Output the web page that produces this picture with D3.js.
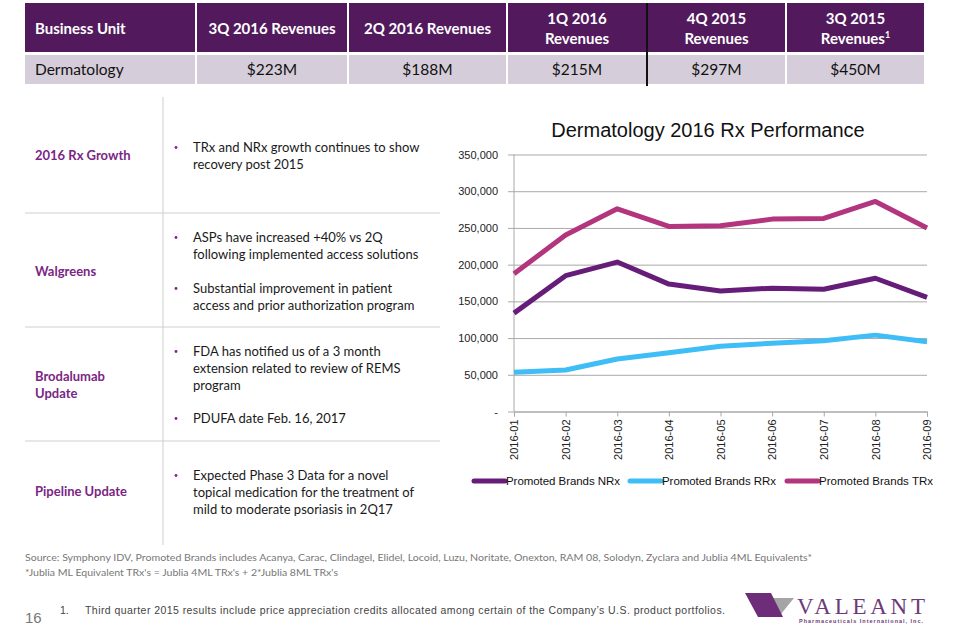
<!DOCTYPE html>
<html><head><meta charset="utf-8">
<script src="https://cdn.jsdelivr.net/npm/d3@7"></script>
<style>
html,body{margin:0;padding:0;background:#fff;}
svg{display:block;}
</style></head>
<body>
<svg id="c" width="960" height="629"></svg>
<script>
// ---- data ----
const tableHeaders = ["Business Unit", "3Q 2016 Revenues", "2Q 2016  Revenues", "1Q 2016\nRevenues", "4Q 2015\nRevenues", "3Q 2015\nRevenues"];
const tableRow = ["Dermatology", "$223M", "$188M", "$215M", "$297M", "$450M"];
const months = ["2016-01","2016-02","2016-03","2016-04","2016-05","2016-06","2016-07","2016-08","2016-09"];
const nrx = [134000, 185000, 203500, 173500, 164000, 168000, 166500, 181500, 155500];
const rrx = [53500, 56500, 71500, 80000, 89000, 93000, 96500, 104000, 95000];
const trx = [187500, 240500, 276000, 252000, 253000, 262000, 263000, 286000, 250000];
const seriesNames = ["Promoted Brands NRx", "Promoted Brands RRx", "Promoted Brands TRx"];
const yTicks = [0, 50000, 100000, 150000, 200000, 250000, 300000, 350000];
const sections = [
  {label:["2016 Rx Growth"], bullets:[["TRx and NRx growth continues to show","recovery post 2015"]]},
  {label:["Walgreens"], bullets:[["ASPs have increased +40% vs 2Q","following implemented access solutions"],["Substantial improvement in patient","access and prior authorization program"]]},
  {label:["Brodalumab","Update"], bullets:[["FDA has notified us of a 3 month","extension related to review of REMS","program"],["PDUFA date Feb. 16, 2017"]]},
  {label:["Pipeline Update"], bullets:[["Expected Phase 3 Data for a novel","topical medication for the treatment of","mild to moderate psoriasis in 2Q17"]]}
];

const svg = d3.select("#c");
const body = "Lato, 'Open Sans', sans-serif";
const arial = "'Liberation Sans', Arial, sans-serif";

// ---- table ----
const colEdges = [25, 196, 348, 507, 647, 786, 925];
const hdrY0 = 3, hdrY1 = 52, rowY0 = 55, rowY1 = 84;
for (let i = 0; i < 6; i++) {
  const x0 = colEdges[i] + (i ? 1 : 0), x1 = colEdges[i+1] - 1;
  svg.append("rect").attr("x", x0).attr("y", hdrY0).attr("width", x1 - x0).attr("height", hdrY1 - hdrY0).attr("fill", "#521a5d");
  svg.append("rect").attr("x", x0).attr("y", rowY0).attr("width", x1 - x0).attr("height", rowY1 - rowY0).attr("fill", "#d6cdda");
  const lines = tableHeaders[i].split("\n");
  const cx = i === 0 ? x0 + 10 : (x0 + x1) / 2;
  const t = svg.append("text").attr("x", cx).attr("text-anchor", i === 0 ? "start" : "middle")
    .attr("font-family", body).attr("font-weight", 700).attr("font-size", 15).attr("fill", "#fff");
  const startY = lines.length === 1 ? 34 : 24;
  lines.forEach((l, k) => {
    t.append("tspan").attr("x", cx).attr("y", startY + k * 20).text(l);
    if (i === 5 && k === 1) t.append("tspan").attr("font-size", 9).attr("dy", -6).text("1");
  });
  svg.append("text").attr("x", cx).attr("y", 75).attr("text-anchor", i === 0 ? "start" : "middle")
    .attr("font-family", body).attr("font-size", 15.5).attr("fill", "#111").text(tableRow[i]);
}
svg.append("line").attr("x1", 647).attr("x2", 647).attr("y1", 3).attr("y2", 86).attr("stroke", "#111").attr("stroke-width", 2);

// ---- left text panel ----
svg.append("line").attr("x1", 163).attr("x2", 163).attr("y1", 97).attr("y2", 545).attr("stroke", "#cfcfcf");
[213, 327, 441].forEach(y => svg.append("line").attr("x1", 25).attr("x2", 440).attr("y1", y).attr("y2", y).attr("stroke", "#cfcfcf"));
const labelYs = [[160], [276], [381, 398], [496]];
const bulletYs = [[[152, 169]], [[242, 259], [293, 310]], [[356, 373, 390], [423]], [[480, 497, 514]]];
sections.forEach((s, i) => {
  s.label.forEach((l, k) => svg.append("text").attr("x", 35).attr("y", labelYs[i][k])
    .attr("font-family", body).attr("font-weight", 700).attr("font-size", 13).attr("fill", "#7b2584").text(l));
  s.bullets.forEach((b, j) => {
    svg.append("circle").attr("cx", 176).attr("cy", bulletYs[i][j][0] - 4.5).attr("r", 1.4).attr("fill", "#7b2584");
    b.forEach((l, k) => svg.append("text").attr("x", 193).attr("y", bulletYs[i][j][k])
      .attr("font-family", body).attr("font-size", 13).attr("fill", "#1a1a1a").text(l));
  });
});

// ---- chart ----
const x = d3.scalePoint().domain(months).range([514, 927]);
const y = d3.scaleLinear().domain([0, 350000]).range([411.5, 154.5]);
svg.append("text").attr("x", 708).attr("y", 137).attr("text-anchor", "middle")
  .attr("font-family", arial).attr("font-size", 20).attr("fill", "#111").text("Dermatology 2016 Rx Performance");

const yAxis = d3.axisLeft(y).tickValues(yTicks).tickSize(-(927 - 514)).tickPadding(14)
  .tickFormat(d => d === 0 ? "-" : d3.format(",")(d));
const gy = svg.append("g").attr("transform", "translate(514,0)").call(yAxis);
gy.select(".domain").remove();
gy.selectAll(".tick line").attr("stroke", "#a9a9a9").attr("x1", -6);
gy.selectAll(".tick text").attr("font-family", arial).attr("font-size", 11).attr("fill", "#222").attr("x", -16);
svg.append("line").attr("x1", 514).attr("x2", 514).attr("y1", 154.5).attr("y2", 411.5).attr("stroke", "#a9a9a9");

const xAxis = d3.axisBottom(x).tickSize(5).tickPadding(4);
const gx = svg.append("g").attr("transform", "translate(0,411.5)").call(xAxis);
gx.select(".domain").attr("stroke", "#a9a9a9");
gx.selectAll(".tick line").attr("stroke", "#a9a9a9");
gx.selectAll(".tick text").attr("font-family", arial).attr("font-size", 11).attr("fill", "#222")
  .attr("transform", "rotate(-90)").attr("text-anchor", "end").attr("x", -8).attr("y", 0).attr("dy", "0.35em");

const colors = ["#661d7a", "#3fbdf7", "#b2357e"];
const data = [nrx, rrx, trx];
const line = d3.line().x((d, i) => x(months[i])).y(d => y(d));
[2, 0, 1].forEach(k => {
  svg.append("path").attr("d", line(data[k])).attr("fill", "none").attr("stroke", colors[k])
    .attr("stroke-width", 5).attr("stroke-linejoin", "round");
});

// legend
const legX = [474, 630, 787];
seriesNames.forEach((n, k) => {
  svg.append("line").attr("x1", legX[k]).attr("x2", legX[k] + 31).attr("y1", 481).attr("y2", 481)
    .attr("stroke", colors[k]).attr("stroke-width", 5).attr("stroke-linecap", "round");
  svg.append("text").attr("x", legX[k] + 32).attr("y", 485).attr("font-family", arial).attr("font-size", 11.5)
    .attr("fill", "#111").attr("textLength", 114).text(n);
});

// ---- footer ----
svg.append("text").attr("x", 25).attr("y", 561).attr("font-family", body).attr("font-size", 10).attr("fill", "#777")
  .attr("textLength", 787).attr("lengthAdjust", "spacingAndGlyphs")
  .text("Source: Symphony IDV, Promoted Brands includes Acanya, Carac, Clindagel, Elidel, Locoid, Luzu, Noritate, Onexton, RAM 08, Solodyn, Zyclara and Jublia 4ML Equivalents*");
svg.append("text").attr("x", 25).attr("y", 576).attr("font-family", body).attr("font-size", 10).attr("fill", "#777")
  .attr("textLength", 313).attr("lengthAdjust", "spacingAndGlyphs")
  .text("*Jublia ML Equivalent TRx's = Jublia 4ML TRx's + 2*Jublia 8ML TRx's");
svg.append("text").attr("x", 25).attr("y", 623).attr("font-family", arial).attr("font-size", 15).attr("fill", "#777").text("16");
svg.append("text").attr("x", 60).attr("y", 614).attr("font-family", arial).attr("font-size", 10.5).attr("fill", "#444").text("1.");
svg.append("text").attr("x", 85).attr("y", 614).attr("font-family", arial).attr("font-size", 10.5).attr("fill", "#444")
  .attr("textLength", 640).text("Third quarter 2015 results include price appreciation credits allocated among certain of the Company\u2019s U.S. product portfolios.");

// logo
svg.append("path").attr("d", "M772,598 L794,598 L781,614 Z").attr("fill", "#a5a5a5");
svg.append("path").attr("d", "M745,593 L771,593 L783,617 L758,617 Z").attr("fill", "#6d2d78");
svg.append("text").attr("x", 797).attr("y", 614).attr("font-family", "'Liberation Serif', serif").attr("font-size", 23)
  .attr("fill", "#6d3a7a").attr("textLength", 128).attr("lengthAdjust", "spacing").text("VALEANT");
svg.append("text").attr("x", 799).attr("y", 623).attr("font-family", arial).attr("font-size", 5.5).attr("font-weight", 700)
  .attr("fill", "#6d3a7a").attr("textLength", 124).text("Pharmaceuticals International, Inc.");
</script>
</body></html>
